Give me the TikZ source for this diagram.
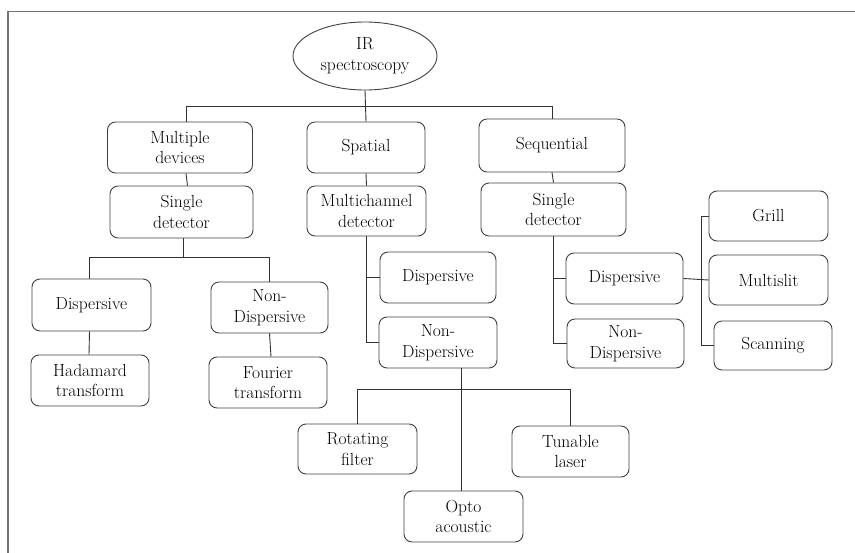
\documentclass[tikz,border=0pt]{standalone}
\usetikzlibrary{shapes.geometric}
\begin{document}
\begin{tikzpicture}[x=1pt,y=-1pt,
  box/.style={draw=black!75, line width=0.9pt, rounded corners=8pt, align=center, inner sep=0pt,
    font=\rmfamily\fontsize{17.5}{20.5}\selectfont, text=black},
  oval/.style={draw=black!75, line width=0.9pt, ellipse, align=center, inner sep=0pt,
    font=\rmfamily\fontsize{17.5}{20.5}\selectfont, text=black},
  conn/.style={draw=black!80, line width=0.9pt}]
\useasboundingbox (0,0) rectangle (855,553);
\draw[black!55, line width=1.4pt] (8,553) -- (8,11.5) -- (855,11.5);
% nodes
\node[oval, minimum width=144pt, minimum height=68pt] (root) at (365,56) {IR\\spectroscopy};
\node[box, minimum width=145pt, minimum height=51pt] (md) at (180,147.5) {Multiple\\devices};
\node[box, minimum width=118pt, minimum height=51pt] (sp) at (366,147.5) {Spatial};
\node[box, minimum width=146pt, minimum height=53pt] (seq) at (552,145.5) {Sequential};
\node[box, minimum width=143pt, minimum height=52pt] (sd1) at (181.5,212) {Single\\detector};
\node[box, minimum width=119pt, minimum height=50pt] (mc) at (366.5,211) {Multichannel\\detector};
\node[box, minimum width=145pt, minimum height=53pt] (sd2) at (553.5,209.5) {Single\\detector};
\node[box, minimum width=119pt, minimum height=52pt] (ldisp) at (91.5,305) {Dispersive};
\node[box, minimum width=117pt, minimum height=51pt] (lnd) at (269.5,307.5) {Non-\\Dispersive};
\node[box, minimum width=118pt, minimum height=51pt] (had) at (90,380.5) {Hadamard\\transform};
\node[box, minimum width=118pt, minimum height=51pt] (fou) at (268,382.5) {Fourier\\transform};
\node[box, minimum width=116pt, minimum height=51pt] (mdisp) at (438,277.5) {Dispersive};
\node[box, minimum width=118pt, minimum height=51pt] (mnd) at (438,342.5) {Non-\\Dispersive};
\node[box, minimum width=119pt, minimum height=50pt] (rot) at (357.5,449) {Rotating\\filter};
\node[box, minimum width=117pt, minimum height=51pt] (tun) at (570.5,451.5) {Tunable\\laser};
\node[box, minimum width=119pt, minimum height=51pt] (opto) at (463.5,516.5) {Opto\\acoustic};
\node[box, minimum width=117pt, minimum height=51pt] (rdisp) at (624.5,278.5) {Dispersive};
\node[box, minimum width=117pt, minimum height=49pt] (rnd) at (625.5,343.5) {Non-\\Dispersive};
\node[box, minimum width=119pt, minimum height=50pt] (grill) at (768.5,216) {Grill};
\node[box, minimum width=119pt, minimum height=50pt] (multi) at (768.5,280) {Multislit};
\node[box, minimum width=118pt, minimum height=49pt] (scan) at (773,345.5) {Scanning};
% connectors
\draw[conn] (root.south) -- (sp.north);
\draw[conn] ([xshift=6pt]md.north) -- ([xshift=6pt]md.north |- 0,106) -| (seq.north);
\draw[conn] ([xshift=6pt]md.south) -- ([xshift=6pt]sd1.north);
\draw[conn] (sp.south) -- (mc.north);
\draw[conn] (seq.south) -- (sd2.north);
\draw[conn] ([xshift=2pt]sd1.south) -- ([xshift=2pt]sd1.south |- 0,257);
\draw[conn] ([xshift=-2pt]ldisp.north) -- ([xshift=-2pt]ldisp.north |- 0,257) -| (lnd.north);
\draw[conn] ([xshift=-2pt]ldisp.south) -- ([xshift=-1pt]had.north);
\draw[conn] (lnd.south) -- ([xshift=3pt]fou.north);
\draw[conn] (mc.south) |- (mdisp.west);
\draw[conn] (mc.south) |- (mnd.west);
\draw[conn] ([xshift=-2pt]opto.north) -- ([xshift=-2pt]opto.north |- mnd.south);
\draw[conn] (rot.north) -- (rot.north |- 0,389) -| (tun.north);
\draw[conn] (sd2.south) |- (rdisp.west);
\draw[conn] (sd2.south) |- (rnd.west);
\draw[conn] (rdisp.east) -- (multi.west);
\draw[conn] (grill.west) -- (grill.west -| 701,0) |- (scan.west);
\end{tikzpicture}
\end{document}
